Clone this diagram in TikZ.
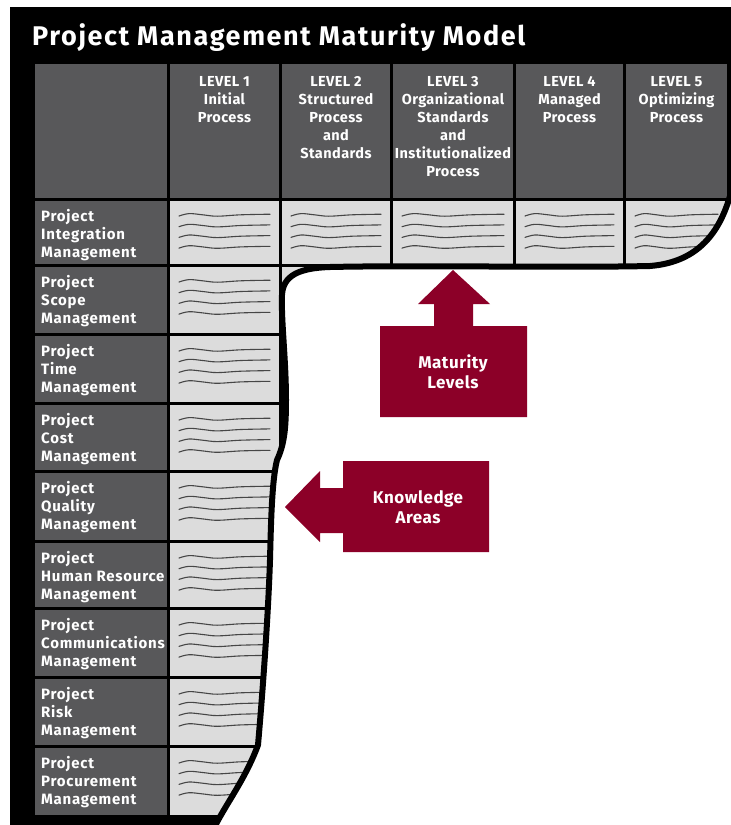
\documentclass[tikz,border=0pt]{standalone}
\usepackage{fontspec}
\setmainfont{Fira Sans}
\definecolor{darkcell}{RGB}{88,88,90}
\definecolor{lightcell}{RGB}{220,220,220}
\definecolor{maroon}{RGB}{140,0,40}
\definecolor{waveink}{RGB}{70,70,70}
\tikzset{
  dcell/.style={fill=darkcell, draw=none, inner sep=0, anchor=north west},
  lcell/.style={fill=lightcell, draw=none, inner sep=0, anchor=north west},
  wave/.style={draw=waveink, line width=1.1pt, line cap=round},
  hdrtext/.style={text=white, inner sep=0, align=center, anchor=north, font=\bfseries\fontsize{14.5}{18}\selectfont\addfontfeature{LetterSpace=3}},
  lbltext/.style={text=white, inner sep=0, align=left, anchor=north west, font=\bfseries\fontsize{15}{18}\selectfont\addfontfeature{LetterSpace=5}},
  arrtext/.style={text=white, inner sep=0, align=center, font=\bfseries\fontsize{17}{20}\selectfont\addfontfeature{LetterSpace=3}},
}
\newcommand\wavecell[3]{%
  \pgfmathsetmacro\xa{#1+9}%
  \pgfmathsetmacro\xb{#1+9+0.11*(#3)}%
  \pgfmathsetmacro\xc{#1+9+0.26*(#3)}%
  \pgfmathsetmacro\xd{#1+9+0.42*(#3)}%
  \pgfmathsetmacro\xe{#1+9+0.68*(#3)}%
  \pgfmathsetmacro\xf{#1+9+(#3)}%
  \foreach \k in {0,1,2,3}{%
    \pgfmathsetmacro\yy{#2+14+\k*10.7}
    \draw[wave] plot[smooth,tension=0.6] coordinates {(\xa,\yy+1) (\xb,\yy-1.4) (\xc,\yy-0.2) (\xd,\yy+1.2) (\xe,\yy-0.2) (\xf,\yy-0.8)};
  }%
}
\def\Bpath{(730,196) .. controls (720,230) and (700,262) .. (650,266)
  .. controls (560,268) and (420,265) .. (330,267)
  .. controls (300,268) and (283,275) .. (282,295)
  .. controls (281,320) and (286,360) .. (286,400)
  .. controls (286,430) and (284,445) .. (277,460)
  .. controls (272,480) and (271,520) .. (270,560)
  .. controls (268,620) and (262,700) .. (258,745)
  .. controls (245,780) and (225,805) .. (213,830)}
\begin{document}
\begin{tikzpicture}[x=1pt,y=-1pt]
\useasboundingbox (0,0) rectangle (731,825);
\fill[black] (10,7) rectangle (731,825);
\node[anchor=base west, text=white, inner sep=0, font=\bfseries\fontsize{27}{30}\selectfont\addfontfeature{LetterSpace=6}] (title) at (32,45) {Project Management Maturity Model};
% header row
\node[dcell, minimum width=132, minimum height=134] (corner) at (35,64) {};
\foreach \x/\w/\txt [count=\i] in {170/109/{LEVEL 1\\Initial\\Process}, 282/108/{LEVEL 2\\Structured\\Process\\and\\Standards}, 393/120/{LEVEL 3\\Organizational\\Standards\\and\\Institutionalized\\Process}, 516/107/{LEVEL 4\\Managed\\Process}, 626/101/{LEVEL 5\\Optimizing\\Process}}{
  \node[dcell, minimum width=\w, minimum height=134] (hdr\i) at (\x,64) {};
  \node[hdrtext] (hdrt\i) at (\x+\w/2,76) {\txt};
  \node[lcell, minimum width=\w, minimum height=63] (c1\i) at (\x,201) {};
  \wavecell{\x}{201}{\w-18}
}
% row 2 level 2 corner cell
\node[lcell, minimum width=108, minimum height=66] (c22) at (282,267) {};
% label column and level 1 column
\foreach \t/\h/\name [count=\i] in {201/63/Integration, 267/66/Scope, 336/66/Time, 405/65/Cost, 473/67/Quality, 543/64/Human Resource, 610/66/Communications, 679/66/Risk, 748/67/Procurement}{
  \node[dcell, minimum width=132, minimum height=\h] (lab\i) at (35,\t) {};
  \node[lbltext] (labt\i) at (41,\t+8) {Project\\\name\\Management};
  \ifnum\i>1
    \node[lcell, minimum width=109, minimum height=\h] (cl\i) at (170,\t) {};
    \wavecell{170}{\t}{91}
  \fi
}
% white outside area and thick boundary
\fill[white] \Bpath -- (740,830) -- (740,196) -- cycle;
\draw[black, line width=6pt, line cap=round] \Bpath;
% Maturity Levels arrow
\fill[maroon] (380,326) -- (434,326) -- (434,304) -- (418,304) -- (453,270) -- (490,304) -- (473,304) -- (473,326) -- (527,326) -- (527,417) -- (380,417) -- cycle;
\node[arrtext, anchor=base] (mat) at (453,388) {Maturity\\Levels};
% Knowledge Areas arrow
\fill[maroon] (489,461) -- (343,461) -- (343,488) -- (320,488) -- (320,471) -- (285,507) -- (320,542) -- (320,533) -- (343,533) -- (343,552) -- (489,552) -- cycle;
\node[arrtext, anchor=base] (ka) at (418,523) {Knowledge\\Areas};
\end{tikzpicture}
\end{document}
